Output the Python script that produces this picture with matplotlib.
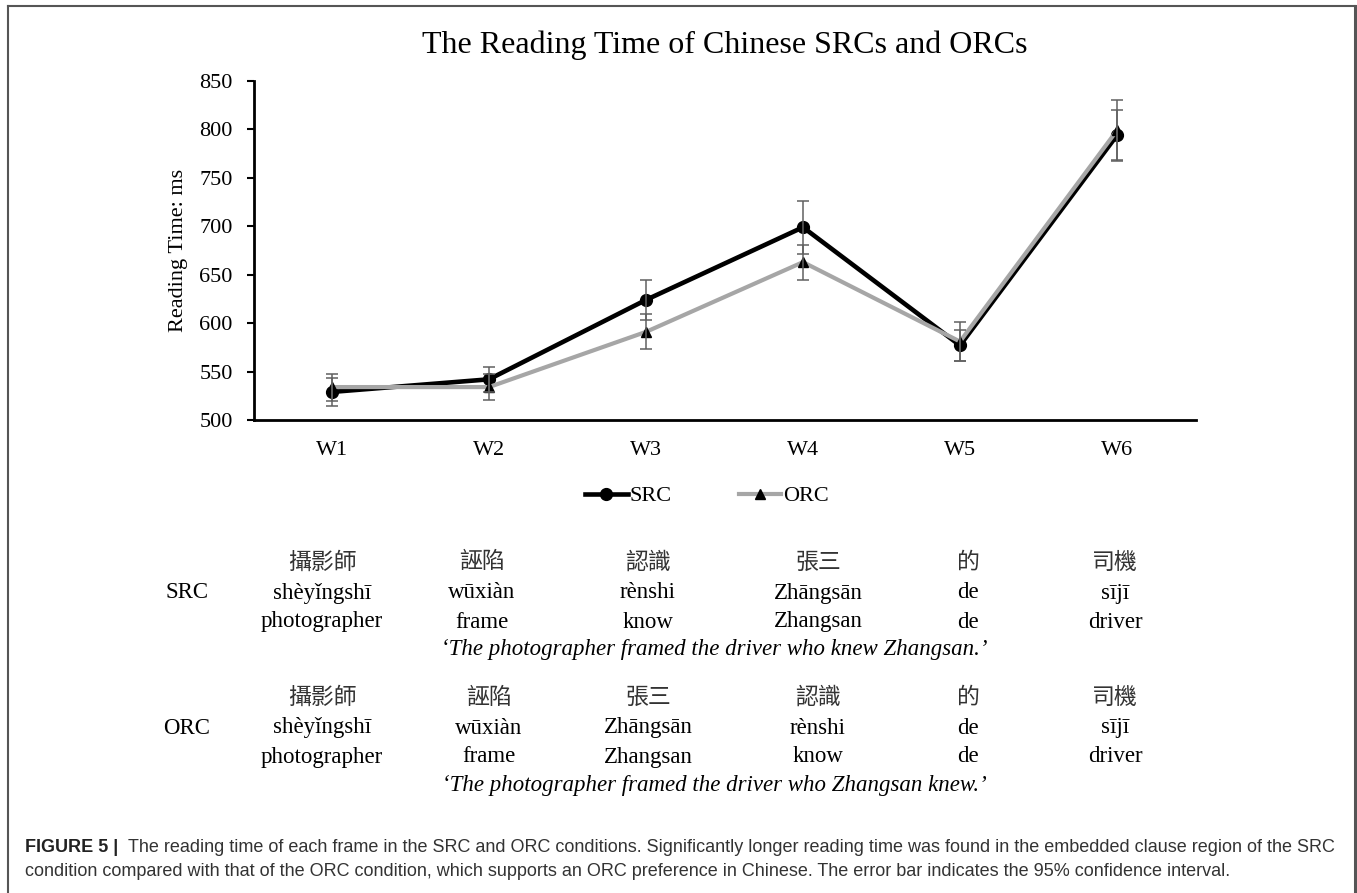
import matplotlib
matplotlib.use("Agg")
import matplotlib.pyplot as plt
from matplotlib.lines import Line2D

# -------------------------
# Data
# -------------------------
frames = ["W1", "W2", "W3", "W4", "W5", "W6"]
src_rt = [529, 542, 624, 699, 577, 794]
src_ci = [14.5, 13, 20.5, 27.5, 16, 26]
orc_rt = [534, 534, 591, 663, 581, 799]
orc_ci = [14, 13, 18, 18, 20, 31.5]
y_ticks = [500, 550, 600, 650, 700, 750, 800, 850]

src_hanzi = ["攝影師", "誣陷", "認識", "張三", "的", "司機"]
src_pinyin = ["shèyǐngshī", "wūxiàn", "rènshi", "Zhāngsān", "de", "sījī"]
src_gloss = ["photographer", "frame", "know", "Zhangsan", "de", "driver"]
src_trans = "The photographer framed the driver who knew Zhangsan"

orc_hanzi = ["攝影師", "誣陷", "張三", "認識", "的", "司機"]
orc_pinyin = ["shèyǐngshī", "wūxiàn", "Zhāngsān", "rènshi", "de", "sījī"]
orc_gloss = ["photographer", "frame", "Zhangsan", "know", "de", "driver"]
orc_trans = "The photographer framed the driver who Zhangsan knew"

caption_bold = "FIGURE 5 |"
caption_1 = ("The reading time of each frame in the SRC and ORC conditions. Significantly longer "
             "reading time was found in the embedded clause region of the SRC")
caption_2 = ("condition compared with that of the ORC condition, which supports an ORC preference "
             "in Chinese. The error bar indicates the 95% confidence interval.")

# -------------------------
# Figure setup (pixel helpers)
# -------------------------
W, H = 1357, 893
fig = plt.figure(figsize=(W / 100, H / 100), dpi=100)


def fx(px):
    return px / W


def fy(py):
    return 1 - py / H


serif = ["Liberation Serif", "DejaVu Serif"]
cjk = ["Noto Sans CJK TC", "DejaVu Sans"]
sans = ["Liberation Sans", "DejaVu Sans"]

ax = fig.add_axes([fx(253.5), fy(420), fx(1195.5) - fx(253.5), fy(81) - fy(420)])

x = list(range(len(frames)))
ax.plot(x, src_rt, color="black", lw=3.3, marker="o", ms=8.5, zorder=3, label="SRC")
ax.plot(x, orc_rt, color="#a6a6a6", lw=3.0, marker="^", ms=7.5, mfc="black", mec="black",
        zorder=4, label="ORC")
ax.errorbar(x, src_rt, yerr=src_ci, fmt="none", ecolor="#606060", elinewidth=1.1,
            capsize=4.5, capthick=1.1, zorder=5)
ax.errorbar(x, orc_rt, yerr=orc_ci, fmt="none", ecolor="#606060", elinewidth=1.1,
            capsize=4.5, capthick=1.1, zorder=5)

ax.set_xlim(-0.5, len(frames) - 0.5)
ax.set_ylim(500, 850)
ax.set_yticks(y_ticks)
ax.set_xticks(x)
ax.set_xticklabels(frames, family=serif, fontsize=16)
ax.set_yticklabels([str(v) for v in y_ticks], family=serif, fontsize=16)
ax.tick_params(axis="x", length=0, pad=15)
ax.tick_params(axis="y", length=5, width=1.5, pad=10)
for side in ["top", "right"]:
    ax.spines[side].set_visible(False)
ax.spines["left"].set_linewidth(2)
ax.spines["bottom"].set_linewidth(2)
ax.set_ylabel("Reading Time: ms", family=serif, fontsize=16, labelpad=8)
ax.set_title("The Reading Time of Chinese SRCs and ORCs", family=serif, fontsize=23, pad=20)

fig.legend(loc="center", bbox_to_anchor=(fx(707), fy(496)), ncol=2, frameon=False,
           prop={"family": serif, "size": 16}, handlelength=1.9, handletextpad=0.1,
           columnspacing=3.0)

# -------------------------
# Example sentences below the chart
# -------------------------
src_cols = [322, 482, 648, 818, 968, 1115]
orc_cols = [322, 489, 648, 818, 968, 1115]
row_fs = 16.5


def gloss_block(label, hanzi, pinyin, gloss, trans, cols, y0):
    fig.text(fx(187), fy(y0 + 31), label, family=serif, fontsize=row_fs, ha="center", va="center")
    for c, h, p, g in zip(cols, hanzi, pinyin, gloss):
        fig.text(fx(c), fy(y0), h, family=cjk, fontsize=row_fs, weight="light",
                 ha="center", va="center", color="#333333")
        fig.text(fx(c), fy(y0 + 31), p, family=serif, fontsize=row_fs, ha="center", va="center")
        fig.text(fx(c), fy(y0 + 60), g, family=serif, fontsize=row_fs, ha="center", va="center")
    fig.text(fx(714), fy(y0 + 88), "\u2018" + trans + ".\u2019", family=serif, style="italic",
             fontsize=row_fs, ha="center", va="center")


gloss_block("SRC", src_hanzi, src_pinyin, src_gloss, src_trans, src_cols, 562)
gloss_block("ORC", orc_hanzi, orc_pinyin, orc_gloss, orc_trans, orc_cols, 697)

# -------------------------
# Caption and frame
# -------------------------
fig.text(fx(25), fy(848), caption_bold, family=sans, fontsize=13, weight="bold",
         color="#222222", va="center")
fig.text(fx(128), fy(848), caption_1, family=sans, fontsize=13, color="#333333", va="center")
fig.text(fx(25), fy(872), caption_2, family=sans, fontsize=13, color="#333333", va="center")

frame_kw = dict(color="#555555", lw=1.5, transform=fig.transFigure)
fig.add_artist(Line2D([fx(8), fx(8)], [fy(6), 0], **frame_kw))
fig.add_artist(Line2D([fx(8), fx(1355)], [fy(6), fy(6)], **frame_kw))
fig.add_artist(Line2D([fx(1355), fx(1355)], [fy(6), 0], lw=2.2, color="#555555",
                      transform=fig.transFigure))

fig.savefig("out.png", dpi=100)
